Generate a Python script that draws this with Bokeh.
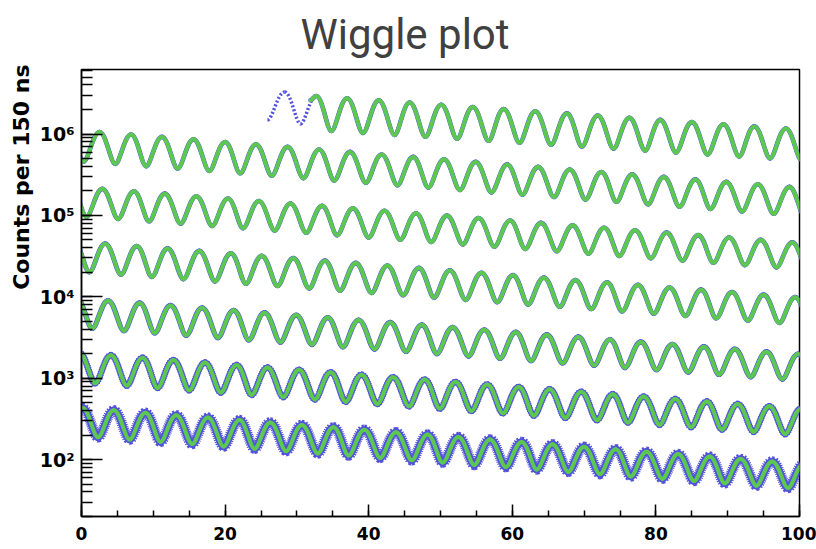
import numpy as np
from bokeh.plotting import figure
from bokeh.models import Title, CustomJSTickFormatter, SingleIntervalTicker
from bokeh.embed import file_html
from bokeh.resources import INLINE

# ---- data: extrema of each 100-us row (time mod 100 us, counts per 150 ns) ----
# top row: data-only head before the fit start
head_peak_t = [28.3, 32.7]
head_peak_n = [3.28e6, 2.93e6]
head_trough_t = [25.9, 30.5]
head_trough_n = [1.49e6, 1.33e6]
fit_start_t = [31.9]
fit_start_n = [2.6e6]

row0_peak_t = [32.7, 37.0, 41.4, 45.7, 50.1, 54.5, 58.8, 63.2, 67.6, 71.9, 76.3, 80.6, 85.0, 89.4, 93.7, 98.1]
row0_peak_n = [2.93e6, 2.75e6, 2.59e6, 2.44e6, 2.29e6, 2.15e6, 2.03e6, 1.90e6, 1.79e6, 1.69e6, 1.58e6, 1.49e6, 1.40e6, 1.32e6, 1.24e6, 1.17e6]
row0_trough_t = [34.8, 39.2, 43.6, 47.9, 52.3, 56.7, 61.0, 65.4, 69.7, 74.1, 78.5, 82.8, 87.2, 91.6, 95.9, 100.3]
row0_trough_n = [1.09e6, 1.03e6, 9.75e5, 9.24e5, 8.73e5, 8.25e5, 7.82e5, 7.39e5, 7.01e5, 6.62e5, 6.26e5, 5.93e5, 5.61e5, 5.30e5, 5.02e5, 4.76e5]

row1_peak_t = [-1.9, 2.5, 6.9, 11.2, 15.6, 20.0, 24.3, 28.7, 33.1, 37.4, 41.8, 46.2, 50.5, 54.9, 59.3, 63.6, 68.0, 72.4, 76.7, 81.1, 85.5, 89.8, 94.2, 98.6]
row1_peak_n = [1.14e6, 1.06e6, 9.86e5, 9.21e5, 8.59e5, 7.98e5, 7.46e5, 6.95e5, 6.46e5, 6.03e5, 5.61e5, 5.23e5, 4.88e5, 4.54e5, 4.23e5, 3.95e5, 3.67e5, 3.42e5, 3.19e5, 2.97e5, 2.77e5, 2.58e5, 2.41e5, 2.24e5]
row1_trough_t = [0.3, 4.7, 9.0, 13.4, 17.8, 22.1, 26.5, 30.9, 35.2, 39.6, 44.0, 48.3, 52.7, 57.1, 61.4, 65.8, 70.2, 74.5, 78.9, 83.3, 87.6, 92.0, 96.4, 100.7]
row1_trough_n = [4.60e5, 4.30e5, 4.03e5, 3.77e5, 3.52e5, 3.29e5, 3.07e5, 2.87e5, 2.69e5, 2.52e5, 2.35e5, 2.20e5, 2.05e5, 1.92e5, 1.80e5, 1.68e5, 1.57e5, 1.47e5, 1.37e5, 1.28e5, 1.20e5, 1.12e5, 1.05e5, 9.80e4]

row2_peak_t = [-1.5, 2.9, 7.3, 11.6, 16.0, 20.4, 24.7, 29.1, 33.5, 37.8, 42.2, 46.6, 50.9, 55.3, 59.7, 64.0, 68.4, 72.8, 77.1, 81.5, 85.9, 90.2, 94.6, 99.0]
row2_peak_n = [2.27e5, 2.12e5, 1.98e5, 1.85e5, 1.72e5, 1.61e5, 1.50e5, 1.40e5, 1.31e5, 1.22e5, 1.14e5, 1.065e5, 9.94e4, 9.28e4, 8.66e4, 8.09e4, 7.55e4, 7.05e4, 6.58e4, 6.14e4, 5.73e4, 5.35e4, 5.00e4, 4.66e4]
row2_trough_t = [0.7, 5.1, 9.4, 13.8, 18.2, 22.5, 26.9, 31.3, 35.6, 40.0, 44.4, 48.7, 53.1, 57.5, 61.8, 66.2, 70.6, 74.9, 79.3, 83.7, 88.0, 92.4, 96.8, 101.1]
row2_trough_n = [9.64e4, 9.03e4, 8.46e4, 7.93e4, 7.43e4, 6.96e4, 6.52e4, 6.11e4, 5.72e4, 5.36e4, 5.02e4, 4.71e4, 4.41e4, 4.13e4, 3.87e4, 3.63e4, 3.40e4, 3.18e4, 2.98e4, 2.79e4, 2.62e4, 2.45e4, 2.30e4, 2.15e4]

row3_peak_t = [-1.1, 3.3, 7.7, 12.0, 16.4, 20.8, 25.1, 29.5, 33.9, 38.2, 42.6, 47.0, 51.3, 55.7, 60.1, 64.4, 68.8, 73.2, 77.5, 81.9, 86.3, 90.6, 95.0, 99.4]
row3_peak_n = [4.82e4, 4.50e4, 4.20e4, 3.92e4, 3.66e4, 3.42e4, 3.19e4, 2.98e4, 2.78e4, 2.60e4, 2.42e4, 2.26e4, 2.11e4, 1.97e4, 1.84e4, 1.72e4, 1.60e4, 1.50e4, 1.40e4, 1.30e4, 1.22e4, 1.14e4, 1.06e4, 9.90e3]
row3_trough_t = [1.1, 5.5, 9.8, 14.2, 18.6, 22.9, 27.3, 31.7, 36.0, 40.4, 44.8, 49.1, 53.5, 57.9, 62.2, 66.6, 71.0, 75.3, 79.7, 84.1, 88.4, 92.8, 97.2, 101.5]
row3_trough_n = [2.01e4, 1.88e4, 1.76e4, 1.65e4, 1.55e4, 1.45e4, 1.36e4, 1.27e4, 1.19e4, 1.12e4, 1.05e4, 9.82e3, 9.20e3, 8.62e3, 8.07e3, 7.56e3, 7.09e3, 6.64e3, 6.22e3, 5.83e3, 5.46e3, 5.12e3, 4.79e3, 4.49e3]

row4_peak_t = [-0.7, 3.7, 8.1, 12.4, 16.8, 21.2, 25.5, 29.9, 34.3, 38.6, 43.0, 47.4, 51.7, 56.1, 60.5, 64.8, 69.2, 73.6, 77.9, 82.3, 86.7, 91.0, 95.4, 99.8]
row4_peak_n = [9.64e3, 9.00e3, 8.40e3, 7.84e3, 7.32e3, 6.83e3, 6.38e3, 5.96e3, 5.56e3, 5.19e3, 4.85e3, 4.52e3, 4.22e3, 3.94e3, 3.68e3, 3.43e3, 3.21e3, 2.99e3, 2.79e3, 2.61e3, 2.44e3, 2.27e3, 2.12e3, 1.98e3]
row4_trough_t = [1.5, 5.9, 10.2, 14.6, 19.0, 23.3, 27.7, 32.1, 36.4, 40.8, 45.2, 49.5, 53.9, 58.3, 62.6, 67.0, 71.4, 75.7, 80.1, 84.5, 88.8, 93.2, 97.6, 101.9]
row4_trough_n = [4.09e3, 3.83e3, 3.59e3, 3.36e3, 3.15e3, 2.95e3, 2.77e3, 2.59e3, 2.43e3, 2.28e3, 2.13e3, 2.00e3, 1.87e3, 1.75e3, 1.64e3, 1.54e3, 1.44e3, 1.35e3, 1.27e3, 1.19e3, 1.11e3, 1.04e3, 975, 913]

row5_peak_t = [-0.3, 4.1, 8.5, 12.8, 17.2, 21.6, 25.9, 30.3, 34.7, 39.0, 43.4, 47.8, 52.1, 56.5, 60.9, 65.2, 69.6, 74.0, 78.3, 82.7, 87.1, 91.4, 95.8, 100.2]
row5_peak_n = [2050, 1914, 1786, 1668, 1557, 1453, 1357, 1266, 1182, 1104, 1030, 962, 898, 838, 782, 730, 682, 636, 594, 555, 518, 483, 451, 421]
row5_trough_t = [1.9, 6.3, 10.6, 15.0, 19.4, 23.7, 28.1, 32.5, 36.8, 41.2, 45.6, 49.9, 54.3, 58.7, 63.0, 67.4, 71.8, 76.1, 80.5, 84.9, 89.2, 93.6, 98.0, 102.3]
row5_trough_n = [866, 811, 760, 712, 667, 625, 586, 549, 514, 482, 451, 423, 396, 371, 348, 326, 305, 286, 268, 251, 235, 220, 206, 193]

row6_peak_t = [0.1, 4.5, 8.9, 13.2, 17.6, 22.0, 26.3, 30.7, 35.1, 39.4, 43.8, 48.2, 52.5, 56.9, 61.3, 65.6, 70.0, 74.4, 78.7, 83.1, 87.5, 91.8, 96.2, 100.6]
row6_peak_n = [432, 403, 376, 351, 328, 306, 286, 267, 249, 233, 217, 203, 189, 177, 165, 154, 144, 134, 125, 117, 109, 102, 95, 89]
row6_trough_t = [-2.1, 2.3, 6.7, 11.0, 15.4, 19.8, 24.1, 28.5, 32.9, 37.2, 41.6, 46.0, 50.3, 54.7, 59.1, 63.4, 67.8, 72.2, 76.5, 80.9, 85.3, 89.6, 94.0, 98.4, 102.7]
row6_trough_n = [200, 188, 176, 165, 155, 145, 136, 127, 119, 112, 105, 98, 92, 86, 81, 75.5, 70.7, 66.3, 62.1, 58.2, 54.5, 51.1, 47.8, 44.8, 42.0]

rows = [
    (row0_peak_t, row0_peak_n, fit_start_t + row0_trough_t, fit_start_n + row0_trough_n),
    (row1_peak_t, row1_peak_n, row1_trough_t, row1_trough_n),
    (row2_peak_t, row2_peak_n, row2_trough_t, row2_trough_n),
    (row3_peak_t, row3_peak_n, row3_trough_t, row3_trough_n),
    (row4_peak_t, row4_peak_n, row4_trough_t, row4_trough_n),
    (row5_peak_t, row5_peak_n, row5_trough_t, row5_trough_n),
    (row6_peak_t, row6_peak_n, row6_trough_t, row6_trough_n),
]

GREEN = "#5cc852"
BLUE = "#5252dc"
blue_width = [4.6, 4.6, 4.6, 4.8, 5.2, 6.0, 7.5]
blue_fringe = [0, 0, 0, 0, 0, 6.8, 10.5]
K_PEAK, K_TROUGH = 0.42, 0.30   # curve shape: round tops, sharper bottoms


def curve(pt, pn, tt, tn):
    t = np.asarray(list(pt) + list(tt), float)
    n = np.asarray(list(pn) + list(tn), float)
    k = np.asarray([K_PEAK] * len(pt) + [K_TROUGH] * len(tt))
    o = np.argsort(t)
    t, n, k = t[o], n[o], k[o]
    dt = np.diff(t)
    return dict(x0=t[:-1], y0=n[:-1], x1=t[1:], y1=n[1:],
                cx0=t[:-1] + k[:-1] * dt, cy0=n[:-1],
                cx1=t[1:] - k[1:] * dt, cy1=n[1:])


p = figure(width=816, height=549, x_range=(0, 100), y_range=(20, 6.2e6),
           y_axis_type="log", output_backend="svg", toolbar_location=None,
           min_border_left=81, min_border_right=17, min_border_top=68, min_border_bottom=33)
p.grid.visible = False
p.outline_line_color = "black"
p.outline_line_width = 1.5
p.background_fill_color = "white"
p.border_fill_color = "white"

# data (blue) under the fit (green)
p.bezier(**curve(head_peak_t, head_peak_n, head_trough_t, head_trough_n),
         line_color=BLUE, line_width=3.5, line_dash="2 2")
for r, w, f in zip(rows, blue_width, blue_fringe):
    c = curve(*r)
    if f:
        p.bezier(**c, line_color=BLUE, line_width=f, line_dash="1 1")
    p.bezier(**c, line_color=BLUE, line_width=w, line_cap="round")
for r in rows:
    p.bezier(**curve(*r), line_color=GREEN, line_width=4, line_cap="round")

# axes
for ax in (p.xaxis[0], p.yaxis[0]):
    ax.axis_line_color = "black"
    ax.axis_line_width = 1.5
    ax.major_tick_line_color = "black"
    ax.minor_tick_line_color = "black"
    ax.major_tick_line_width = 1.5
    ax.minor_tick_line_width = 1.5
    ax.major_tick_out = 0
    ax.minor_tick_out = 0
    ax.major_label_text_font = "DejaVu Sans"
    ax.major_label_text_font_style = "bold"
    ax.major_label_text_color = "black"

p.xaxis.ticker = SingleIntervalTicker(interval=20, num_minor_ticks=4)
p.xaxis.major_tick_in = 12
p.xaxis.minor_tick_in = 6
p.xaxis.major_label_text_font_size = "17px"
p.xaxis.major_label_standoff = 10

p.yaxis.major_tick_in = 21
p.yaxis.minor_tick_in = 11
p.yaxis.major_label_text_font_size = "19px"
p.yaxis.major_label_standoff = 7
p.yaxis.formatter = CustomJSTickFormatter(code="""
const sup = {"0":"\u2070","1":"\u00b9","2":"\u00b2","3":"\u00b3","4":"\u2074",
             "5":"\u2075","6":"\u2076","7":"\u2077","8":"\u2078","9":"\u2079"};
const e = Math.round(Math.log10(tick));
return "10" + String(e).split("").map(c => sup[c]).join("");
""")

# titles
p.title.text = "Wiggle plot"
p.title.align = "left"
p.title.offset = 219
p.title.vertical_align = "top"
p.title.text_font = "Roboto"
p.title.text_font_size = "42px"
p.title.text_font_style = "normal"
p.title.text_color = "#404040"
p.title.standoff = 18

p.add_layout(Title(text="Counts per 150 ns", align="right", offset=-5,
                   text_font="DejaVu Sans", text_font_style="bold",
                   text_font_size="22px", text_color="black", standoff=6), "left")

open("out.html", "w").write(file_html(p, INLINE))
